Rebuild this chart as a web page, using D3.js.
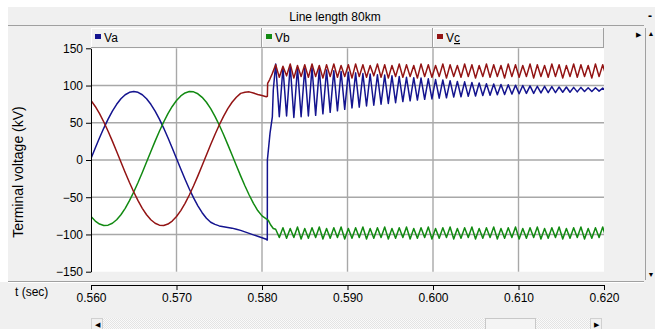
<!DOCTYPE html>
<html>
<head>
<meta charset="utf-8">
<script src="https://cdn.jsdelivr.net/npm/d3@7"></script>
<style>
  body { margin: 0; background: #f0f0f0; }
  svg { display: block; font-family: "Liberation Sans", Arial, sans-serif; }
</style>
</head>
<body>
<script>
// samples before the fault, every 0.5 ms from 0.560 s
const preStart = 0.56,
  preStep = 0.0005;
const vaPre = [
  2, 16.1, 29.8, 42.9, 54.9, 65.6, 74.8, 82.2, 87.6, 90.9,
  92, 90.9, 87.6, 82.2, 74.8, 65.6, 54.9, 42.9, 29.8, 16.1,
  2, -12.1, -25.8, -38.9, -50.9, -61.6, -70.8, -78.2, -83.6, -86.5,
  -88.5, -89.5, -90.5, -91.5, -93, -94.5, -96.5, -98.5, -100.5, -102.5,
  -104.5, -106.5,
];
const vbPre = [
  -75.9, -82, -86, -87.9, -87.5, -84.9, -80.2, -73.5, -64.9, -54.6,
  -43, -30.3, -16.7, -2.7, 11.4, 25.3, 38.6, 51, 62.2, 71.9,
  79.9, 86, 90, 91.9, 91.5, 88.9, 84.2, 77.5, 68.9, 58.6,
  47, 34.3, 20.7, 6.7, -7.4, -21.3, -34.6, -47, -58.2, -67.9,
  -75, -79,
];
const vcPre = [
  79.9, 71.9, 62.2, 51, 38.6, 25.3, 11.4, -2.7, -16.7, -30.3,
  -43, -54.6, -64.9, -73.5, -80.2, -84.9, -87.5, -87.9, -86, -82,
  -75.9, -67.9, -58.2, -47, -34.6, -21.3, -7.4, 6.7, 20.7, 34.3,
  47, 58.6, 68.9, 77.5, 84.2, 89.5, 91, 91.5, 90, 88,
  86.5, 85,
];

// the switching instant
const vaJumpT = [0.58062, 0.58063, 0.58094, 0.58121, 0.58132];
const vaJump = [-107.5, 0, 36, 58, 94];
const vbBendT = [0.58074, 0.581, 0.58132];
const vbBend = [-81, -87, -92];
const vcStepT = [0.58063, 0.58066, 0.5809, 0.5812];
const vcStep = [85.5, 103, 108, 116];

// after the fault: alternating crest / dip of the ripple
const postStart = 0.5816,
  postStep = 0.000425;
const vaPost = [
  129, 58, 124, 59, 127, 57, 124, 58, 123, 59, 124, 60, 122, 62, 121, 64, 120, 66, 119, 68,
  118, 70, 117, 71, 116, 72.5, 115.5, 73.5, 114.5, 75, 114, 76, 113, 77, 112, 78.5, 111, 79.5, 110.5, 80.5,
  110, 81.5, 109, 82, 108, 83, 107.5, 83.5, 106.5, 84.5, 105.5, 85, 105, 85.5, 104, 86, 103.5, 86.5, 102.5, 87,
  102, 87.5, 101.5, 88, 101, 88.5, 100.5, 89, 100, 89.5, 99.5, 89.5, 99, 90, 99, 90.5, 98.5, 90.5, 98, 91,
  98, 91, 97.5, 91.5, 97.5, 92, 97, 92, 97, 92.5, 96.5, 92.5,
];
const vbPost = [
  -93, -104, -91, -105, -92, -104, -90, -106, -92, -105, -91, -104, -90, -106, -92, -105, -91, -104, -90, -106,
  -92, -105, -91, -104, -90, -106, -92, -105, -91, -104, -90, -106, -92, -105, -91, -104, -90, -106, -92, -105,
  -91, -104, -90, -106, -92, -105, -91, -104, -90, -106, -92, -105, -91, -104, -90, -106, -92, -105, -91, -104,
  -90, -106, -92, -105, -91, -104, -90, -106, -92, -105, -91, -104, -90, -106, -92, -105, -91, -104, -90, -106,
  -92, -105, -91, -104, -90, -106, -92, -105, -91, -104, -90, -106,
];
const vcPost = [
  128, 111, 126, 113, 129, 110, 127, 112, 128, 111, 129, 112, 127, 110, 128, 112, 129, 111, 127, 112,
  128, 110, 129, 112, 128, 111, 127, 113, 129, 111, 128, 110, 127, 112, 129, 111, 128, 112, 127, 110,
  129, 112, 128, 111, 127, 112, 129, 110, 128, 112, 127, 111, 129, 112, 128, 110, 127, 112, 129, 111,
  128, 112, 127, 110, 129, 112, 128, 111, 127, 112, 129, 110, 128, 112, 127, 111, 129, 112, 128, 110,
  127, 112, 129, 111, 128, 112, 127, 110, 129, 112, 128, 111,
];

const seriesNames = ["Va", "Vb", "Vc"];
const yTicks = [-150, -100, -50, 0, 50, 100, 150];
const xTicks = [0.56, 0.57, 0.58, 0.59, 0.6, 0.61, 0.62];
const chartTitle = "Line length 80km";
const yTitle = "Terminal voltage (kV)";
const xTitle = "t (sec)";

function buildSeries(pre, midT, mid, post) {
  return [
    ...pre.map((v, i) => ({ t: preStart + i * preStep, v })),
    ...mid.map((v, i) => ({ t: midT[i], v })),
    ...post.map((v, i) => ({ t: postStart + i * postStep, v })),
  ];
}

const series = [
  { name: seriesNames[0], color: "#14148f", values: buildSeries(vaPre, vaJumpT, vaJump, vaPost) },
  { name: seriesNames[1], color: "#128a12", values: buildSeries(vbPre, vbBendT, vbBend, vbPost) },
  { name: seriesNames[2], color: "#931414", values: buildSeries(vcPre, vcStepT, vcStep, vcPost) },
];

const width = 655,
  height = 329;
const plot = { left: 91, right: 604, top: 48.3, bottom: 271.7 };

const x = d3.scaleLinear().domain([0.56, 0.62]).range([plot.left, plot.right]);
const y = d3.scaleLinear().domain([-150, 150]).range([plot.bottom, plot.top]);

const svg = d3
  .select("body")
  .append("svg")
  .attr("width", width)
  .attr("height", height);

// window chrome
svg.append("rect").attr("width", width).attr("height", height).attr("fill", "#f0f0f0");
svg.append("rect").attr("width", width).attr("height", 7).attr("fill", "#fff");
svg.append("rect").attr("width", 8).attr("height", 282).attr("fill", "#fff");

svg.append("line").attr("x1", 8).attr("x2", 644).attr("y1", 25.5).attr("y2", 25.5).attr("stroke", "#a0a0a0");
svg
  .append("text")
  .attr("x", 335)
  .attr("y", 20.5)
  .attr("text-anchor", "middle")
  .attr("font-size", 12)
  .text(chartTitle);
svg.append("text").attr("x", 650).attr("y", 20).attr("text-anchor", "middle").attr("font-size", 12).attr("font-weight", "bold").text("-");

// legend strip
const legendEdges = [plot.left, 262, 433, plot.right];
svg.append("line").attr("x1", plot.left).attr("x2", plot.right).attr("y1", 28.5).attr("y2", 28.5).attr("stroke", "#fff");
svg.append("line").attr("x1", plot.left).attr("x2", plot.right).attr("y1", 47.5).attr("y2", 47.5).attr("stroke", "#a0a0a0");
legendEdges.slice(1).forEach((e) => {
  svg.append("line").attr("x1", e - 0.5).attr("x2", e - 0.5).attr("y1", 28).attr("y2", 48).attr("stroke", "#a0a0a0");
});
legendEdges.slice(0, 3).forEach((e) => {
  svg.append("line").attr("x1", e + 0.5).attr("x2", e + 0.5).attr("y1", 29).attr("y2", 47).attr("stroke", "#fff");
});
const legend = svg
  .selectAll(".legend")
  .data(series)
  .join("g")
  .attr("class", "legend")
  .attr("transform", (d, i) => `translate(${legendEdges[i] + 4},0)`);
legend.append("rect").attr("y", 34).attr("width", 6).attr("height", 5).attr("fill", (d) => d.color);
legend
  .append("text")
  .attr("x", 9)
  .attr("y", 42)
  .attr("font-size", 12)
  .each(function (d) {
    const t = d3.select(this);
    t.append("tspan").text(d.name[0]);
    t.append("tspan")
      .style("text-decoration", d.name === "Vc" ? "underline" : null)
      .text(d.name.slice(1));
  });
svg.append("text").attr("x", 638).attr("y", 37).attr("font-size", 7).attr("text-anchor", "middle").text("\u25B6");

// right scrollbar
svg.append("line").attr("x1", 645.5).attr("x2", 645.5).attr("y1", 28).attr("y2", 280).attr("stroke", "#a0a0a0");
svg.append("text").attr("x", 651).attr("y", 36).attr("font-size", 7).attr("text-anchor", "middle").text("\u25B2");
svg.append("text").attr("x", 651).attr("y", 277).attr("font-size", 7).attr("text-anchor", "middle").text("\u25BC");

// plot area
svg
  .append("rect")
  .attr("x", plot.left)
  .attr("y", plot.top)
  .attr("width", plot.right - plot.left)
  .attr("height", plot.bottom - plot.top)
  .attr("fill", "#fff");

svg
  .append("g")
  .selectAll("line")
  .data(yTicks.slice(1, -1))
  .join("line")
  .attr("x1", plot.left)
  .attr("x2", plot.right)
  .attr("y1", (d) => y(d))
  .attr("y2", (d) => y(d))
  .attr("stroke", "#a8a8a8")
  .attr("stroke-width", 1.4);
svg
  .append("g")
  .selectAll("line")
  .data(xTicks.slice(1, -1))
  .join("line")
  .attr("x1", (d) => x(d))
  .attr("x2", (d) => x(d))
  .attr("y1", plot.top)
  .attr("y2", plot.bottom)
  .attr("stroke", "#a8a8a8")
  .attr("stroke-width", 1.4);

svg
  .append("clipPath")
  .attr("id", "clip")
  .append("rect")
  .attr("x", plot.left)
  .attr("y", plot.top)
  .attr("width", plot.right - plot.left)
  .attr("height", plot.bottom - plot.top);

const line = d3
  .line()
  .x((d) => x(d.t))
  .y((d) => y(d.v));

svg
  .append("g")
  .attr("clip-path", "url(#clip)")
  .selectAll("path")
  .data(series)
  .join("path")
  .attr("fill", "none")
  .attr("stroke", (d) => d.color)
  .attr("stroke-width", 1.5)
  .attr("stroke-linejoin", "round")
  .attr("d", (d) => line(d.values));

// y axis
const yAxis = svg
  .append("g")
  .attr("transform", `translate(${plot.left},0)`)
  .call(d3.axisLeft(y).tickValues(yTicks).tickSize(5).tickSizeOuter(0).tickPadding(3));
yAxis.selectAll("text").attr("font-size", 12).attr("font-family", null).attr("fill", "#000");
yAxis.select(".domain").attr("stroke", "#000");

svg
  .append("text")
  .attr("transform", "translate(23,172) rotate(-90)")
  .attr("text-anchor", "middle")
  .attr("font-size", 14)
  .text(yTitle);

// separator and x axis
svg.append("line").attr("x1", 8).attr("x2", 644).attr("y1", 281.5).attr("y2", 281.5).attr("stroke", "#a0a0a0");
svg.append("line").attr("x1", 8).attr("x2", 644).attr("y1", 282.5).attr("y2", 282.5).attr("stroke", "#fff");

const xAxis = svg
  .append("g")
  .attr("transform", "translate(0,285)")
  .call(d3.axisBottom(x).tickValues(xTicks).tickFormat(d3.format(".3f")).tickSize(5).tickSizeOuter(0).tickPadding(3));
xAxis.selectAll("text").attr("font-size", 12).attr("font-family", null).attr("fill", "#000");
xAxis.select(".domain").attr("stroke", "#000");

svg.append("text").attr("x", 15).attr("y", 296).attr("font-size", 12).text(xTitle);

// bottom scrollbar
const defs = svg.append("defs");
const pat = defs.append("pattern").attr("id", "hatch").attr("width", 2).attr("height", 2).attr("patternUnits", "userSpaceOnUse");
pat.append("rect").attr("width", 2).attr("height", 2).attr("fill", "#fafafa");
pat.append("rect").attr("width", 1).attr("height", 1).attr("fill", "#e4e4e4");
pat.append("rect").attr("x", 1).attr("y", 1).attr("width", 1).attr("height", 1).attr("fill", "#e4e4e4");
svg.append("rect").attr("x", 103).attr("y", 318).attr("width", 487).attr("height", 11).attr("fill", "url(#hatch)");
svg.append("rect").attr("x", 485.5).attr("y", 318.5).attr("width", 50).attr("height", 11).attr("fill", "#f4f4f4").attr("stroke", "#c8c8c8");
svg.append("rect").attr("x", 91.5).attr("y", 318.5).attr("width", 11).attr("height", 11).attr("fill", "#f0f0f0").attr("stroke", "#d0d0d0");
svg.append("rect").attr("x", 590.5).attr("y", 318.5).attr("width", 11).attr("height", 11).attr("fill", "#f0f0f0").attr("stroke", "#d0d0d0");
svg.append("text").attr("x", 97).attr("y", 327).attr("font-size", 7).attr("text-anchor", "middle").text("\u25C0");
svg.append("text").attr("x", 596).attr("y", 327).attr("font-size", 7).attr("text-anchor", "middle").text("\u25B6");
</script>
</body>
</html>
